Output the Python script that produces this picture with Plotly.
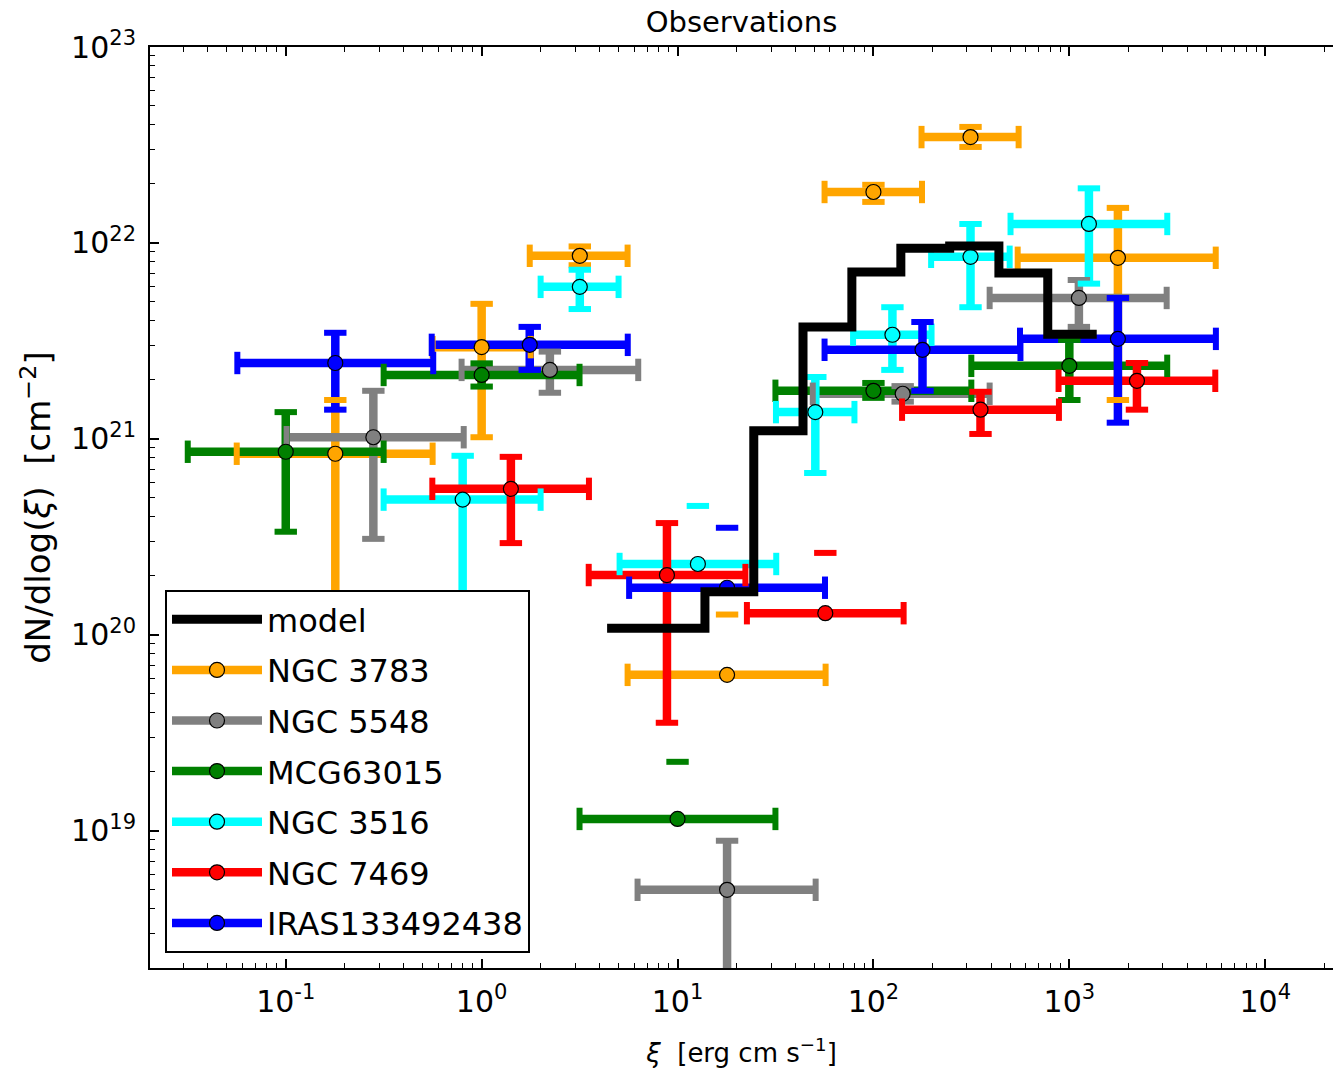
import plotly.graph_objects as go

# ---------------- data ----------------
series_names = ["NGC 3783", "NGC 5548", "MCG63015", "NGC 3516", "NGC 7469", "IRAS133492438"]
series_colors = ["#FFA500", "#808080", "#008000", "#00FFFF", "#FF0000", "#0000FF"]

ngc3783_x = [0.179, 1.0, 3.17, 17.9, 100, 313, 1770]
ngc3783_y = [8.4e20, 2.94e21, 8.6e21, 6.25e19, 1.82e22, 3.47e22, 8.4e21]
ngc3783_xlo = [0.0562, 0.562, 1.76, 5.56, 56.3, 176, 545]
ngc3783_xhi = [0.562, 1.78, 5.56, 57.0, 177, 551, 5590]
ngc3783_ylo = [2.0e19, 1.02e21, 7.7e21, None, 1.62e22, 3.09e22, 1.58e21]
ngc3783_yhi = [1.58e21, 4.89e21, 9.6e21, 1.27e20, 1.98e22, 3.91e22, 1.51e22]

ngc5548_x = [0.280, 2.23, 17.9, 141, 1119]
ngc5548_y = [1.02e21, 2.25e21, 5.0e18, 1.70e21, 5.24e21]
ngc5548_xlo = [0.101, 0.79, 6.25, 49.0, 392]
ngc5548_xhi = [0.81, 6.3, 50.7, 392, 3140]
ngc5548_ylo = [3.09e20, 1.72e21, 1.0e18, 1.55e21, 3.73e21]
ngc5548_yhi = [1.76e21, 2.79e21, 8.9e18, 1.86e21, 6.47e21]

mcg63015_x = [0.1, 1.0, 10, 100, 1000]
mcg63015_y = [8.6e20, 2.12e21, 1.15e19, 1.76e21, 2.36e21]
mcg63015_xlo = [0.0316, 0.316, 3.16, 31.6, 316]
mcg63015_xhi = [0.316, 3.16, 31.6, 316, 3160]
mcg63015_ylo = [3.36e20, 1.85e21, None, 1.62e21, 1.58e21]
mcg63015_yhi = [1.37e21, 2.43e21, 2.25e19, 1.93e21, 3.2e21]

ngc3516_x = [0.80, 3.17, 12.7, 50.5, 125, 313, 1259]
ngc3516_y = [4.9e20, 5.97e21, 2.3e20, 1.37e21, 3.4e21, 8.5e21, 1.25e22]
ngc3516_xlo = [0.316, 2.0, 5.06, 31.8, 78.7, 197, 501]
ngc3516_xhi = [2.0, 5.0, 31.9, 80.0, 198, 496, 3162]
ngc3516_ylo = [3.0e19, 4.6e21, None, 6.7e20, 2.25e21, 4.7e21, 6.2e21]
ngc3516_yhi = [8.2e20, 7.3e21, 4.55e20, 2.07e21, 4.7e21, 1.25e22, 1.9e22]

ngc7469_x = [1.41, 8.83, 56.8, 352, 2214]
ngc7469_y = [5.56e20, 2.02e20, 1.29e20, 1.41e21, 1.98e21]
ngc7469_xlo = [0.56, 3.52, 22.6, 140, 881]
ngc7469_xhi = [3.53, 22.2, 142.6, 885, 5560]
ngc7469_ylo = [2.94e20, 3.56e19, None, 1.06e21, 1.41e21]
ngc7469_yhi = [8.1e20, 3.72e20, 2.62e20, 1.74e21, 2.44e21]

iras_x = [0.179, 1.76, 17.9, 178, 1770]
iras_y = [2.44e21, 3.02e21, 1.74e20, 2.85e21, 3.24e21]
iras_xlo = [0.0566, 0.556, 5.66, 56.3, 560]
iras_xhi = [0.566, 5.57, 56.6, 563, 5600]
iras_ylo = [1.41e21, 2.25e21, None, 1.76e21, 1.21e21]
iras_yhi = [3.48e21, 3.73e21, 3.52e20, 3.95e21, 5.24e21]

model_edges = [4.37, 7.76, 13.8, 24.5, 43.7, 77.6, 138, 245, 437, 776, 1380]
model_values = [1.08e20, 1.08e20, 1.66e20, 1.10e21, 3.73e21, 7.1e21, 9.4e21, 9.66e21, 7.03e21, 3.42e21]

x_tick_exponents = [-1, 0, 1, 2, 3, 4]
y_tick_exponents = [19, 20, 21, 22, 23]

series = [
    (ngc3783_x, ngc3783_y, ngc3783_xlo, ngc3783_xhi, ngc3783_ylo, ngc3783_yhi),
    (ngc5548_x, ngc5548_y, ngc5548_xlo, ngc5548_xhi, ngc5548_ylo, ngc5548_yhi),
    (mcg63015_x, mcg63015_y, mcg63015_xlo, mcg63015_xhi, mcg63015_ylo, mcg63015_yhi),
    (ngc3516_x, ngc3516_y, ngc3516_xlo, ngc3516_xhi, ngc3516_ylo, ngc3516_yhi),
    (ngc7469_x, ngc7469_y, ngc7469_xlo, ngc7469_xhi, ngc7469_ylo, ngc7469_yhi),
    (iras_x, iras_y, iras_xlo, iras_xhi, iras_ylo, iras_yhi),
]

# ---------------- style ----------------
FONT = "DejaVu Sans"
BAR_W = 8.5
CAP_LEN = 16
CAP_W = 6
MARK = 15

fig = go.Figure()

# error bar lines (all series first, like matplotlib collections)
for (x, y, xlo, xhi, ylo, yhi), col in zip(series, series_colors):
    hx, hy = [], []
    for xi, yi, a, b in zip(x, y, xlo, xhi):
        hx += [a, b, None]
        hy += [yi, yi, None]
    fig.add_trace(go.Scatter(x=hx, y=hy, mode="lines", line=dict(color=col, width=BAR_W),
                             showlegend=False, hoverinfo="skip"))
    vx, vy = [], []
    for xi, yi, a, b in zip(x, y, ylo, yhi):
        if a is None:
            continue
        vx += [xi, xi, None]
        vy += [a, b, None]
    fig.add_trace(go.Scatter(x=vx, y=vy, mode="lines", line=dict(color=col, width=BAR_W),
                             showlegend=False, hoverinfo="skip"))

# caps and markers
for (x, y, xlo, xhi, ylo, yhi), col in zip(series, series_colors):
    cx = list(xlo) + list(xhi)
    cy = list(y) + list(y)
    fig.add_trace(go.Scatter(x=cx, y=cy, mode="markers",
                             marker=dict(symbol="line-ns", size=CAP_LEN,
                                         line=dict(color=col, width=CAP_W)),
                             showlegend=False, hoverinfo="skip"))
    ex, ey = [], []
    for xi, a, b in zip(x, ylo, yhi):
        if a is not None:
            ex.append(xi); ey.append(a)
        if b is not None:
            ex.append(xi); ey.append(b)
    fig.add_trace(go.Scatter(x=ex, y=ey, mode="markers",
                             marker=dict(symbol="line-ew", size=CAP_LEN,
                                         line=dict(color=col, width=CAP_W)),
                             showlegend=False, hoverinfo="skip"))
    fig.add_trace(go.Scatter(x=x, y=y, mode="markers",
                             marker=dict(symbol="circle", size=MARK, color=col,
                                         line=dict(color="black", width=1.2)),
                             showlegend=False))

# model step line (drawn last)
fig.add_trace(go.Scatter(x=model_edges, y=model_values + [model_values[-1]],
                         mode="lines", line=dict(color="black", width=9, shape="hv"),
                         name="model", legendrank=1, legendgroup="model"))

# legend entries
for i, (name, col) in enumerate(zip(series_names, series_colors)):
    fig.add_trace(go.Scatter(x=[None], y=[None], mode="lines+markers", name=name,
                             line=dict(color=col, width=BAR_W),
                             marker=dict(symbol="circle", size=MARK, color=col,
                                         line=dict(color="black", width=1.2)),
                             legendrank=i + 2, legendgroup=name))

def power_labels(exps):
    return ["10<sup>%d</sup>" % e for e in exps]

axis_common = dict(
    type="log", showgrid=False, zeroline=False,
    showline=True, linecolor="black", linewidth=2,
    ticks="inside", ticklen=9, tickwidth=1.5, tickcolor="black",
    tickfont=dict(family=FONT, size=30, color="black"),
    minor=dict(ticks="inside", ticklen=5, tickwidth=1.2, tickcolor="black", dtick="D1", showgrid=False),
)

fig.update_layout(
    width=1333, height=1069,
    margin=dict(l=150, r=0, t=47, b=101),
    paper_bgcolor="white", plot_bgcolor="white",
    font=dict(family=FONT, color="black"),
    title=dict(text="Observations", x=0.5, xref="paper", xanchor="center",
               y=1 - 22 / 1069, yref="container", yanchor="middle",
               font=dict(family=FONT, size=29, color="black")),
    xaxis=dict(range=[-1.693, 4.346], mirror="ticks",
               tickvals=[10.0 ** e for e in x_tick_exponents],
               ticktext=power_labels(x_tick_exponents),
               ticklabelstandoff=6,
               title=dict(text="<i>ξ</i>  [erg cm s<sup>−1</sup>]",
                          font=dict(family=FONT, size=26, color="black"), standoff=26),
               **axis_common),
    yaxis=dict(range=[18.3, 23.0], mirror=False,
               tickvals=[10.0 ** e for e in y_tick_exponents],
               ticktext=power_labels(y_tick_exponents),
               ticklabelstandoff=6,
               title=dict(text="dN/dlog(<i>ξ</i>)  [cm<sup>−2</sup>]",
                          font=dict(family=FONT, size=34, color="black"), standoff=10),
               **axis_common),
    legend=dict(x=15 / 1183, y=15 / 921, xanchor="left", yanchor="bottom",
                bgcolor="white", bordercolor="black", borderwidth=2,
                font=dict(family=FONT, size=32, color="black"),
                itemwidth=90, tracegroupgap=6, traceorder="grouped"),
    showlegend=True,
)

fig.write_html("out.html")
